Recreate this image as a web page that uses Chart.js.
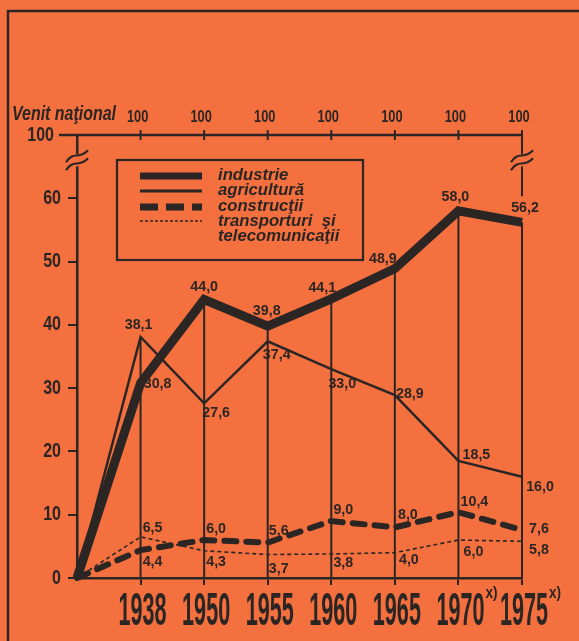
<!DOCTYPE html>
<html>
<head>
<meta charset="utf-8">
<script src="https://cdn.jsdelivr.net/npm/chart.js@4.4.1/dist/chart.umd.min.js"></script>
<style>
  html, body { margin: 0; padding: 0; background: #f4703f; }
  #wrap { width: 579px; height: 641px; }
</style>
</head>
<body>
<div id="wrap"><canvas id="venitChart"></canvas></div>
<script>
// values (index 0 is the common origin)
const categories = ['', '1938', '1950', '1955', '1960', '1965', '1970', '1975'];
const industrie = [0, 30.8, 44.0, 39.8, 44.1, 48.9, 58.0, 56.2];
const agricultura = [0, 38.1, 27.6, 37.4, 33.0, 28.9, 18.5, 16.0];
const constructii = [0, 4.4, 6.0, 5.6, 9.0, 8.0, 10.4, 7.6];
const transporturi = [0, 6.5, 4.3, 3.7, 3.8, 4.0, 6.0, 5.8];
const venitNational = [null, 100, 100, 100, 100, 100, 100, 100];
const yTicks = [0, 10, 20, 30, 40, 50, 60];
const yTopValue = 70;      // the axis is broken: this position stands for 100
const yTopLabel = '100';
const footnoted = ['1970', '1975'];

const INK = '#2b2624';
const BG = '#f4703f';
const FONT = '"Liberation Sans", Arial, sans-serif';

// nudges for the value labels, [dx, dy] from the point, per series
const labelNudge = [
  [null, [17, 1], [0, -13], [-1, -15], [-9, -11], [-12, -10], [-3, -14], [3, -14]],
  [null, [-2, -12], [12, 10], [9, 14], [11, 15], [15, -1], [18, -6], [18, 10]],
  [null, [12, 12], [12, -11], [11, -12], [12, -11], [13, -13], [16, -10], [17, -1]],
  [null, [12, -9], [12, 11], [11, 14], [12, 9], [14, 7], [15, 12], [17, 9]]
];

const fmt = v => v.toFixed(1).replace('.', ',');

// text squeezed horizontally, like the hand lettering
function txt(ctx, s, x, y, font, sx, align) {
  ctx.save();
  ctx.font = font;
  ctx.fillStyle = INK;
  ctx.textAlign = align;
  ctx.textBaseline = 'middle';
  ctx.translate(x, y);
  ctx.scale(sx, 1);
  ctx.fillText(s, 0, 0);
  const w = ctx.measureText(s).width * sx;
  ctx.restore();
  return w;
}

function wave(ctx, x, y) {
  ctx.save();
  ctx.fillStyle = BG;
  ctx.fillRect(x - 3, y - 6, 6, 12);
  ctx.strokeStyle = INK;
  ctx.lineWidth = 2.2;
  [-4, 4].forEach(o => {
    ctx.beginPath();
    ctx.moveTo(x - 11, y + o + 6);
    ctx.bezierCurveTo(x - 4, y + o - 6, x + 2, y + o + 4, x + 11, y + o - 6);
    ctx.stroke();
  });
  ctx.restore();
}

const paperPlugin = {
  id: 'paper',
  beforeDraw(chart) {
    const ctx = chart.ctx;
    ctx.save();
    ctx.fillStyle = BG;
    ctx.fillRect(0, 0, chart.width, chart.height);
    ctx.strokeStyle = INK;
    ctx.lineWidth = 2.5;
    ctx.beginPath();
    ctx.moveTo(8, chart.height);
    ctx.lineTo(8, 11);
    ctx.lineTo(chart.width, 11);
    ctx.stroke();
    ctx.restore();
  },
  beforeDatasetsDraw(chart) {
    const { ctx, chartArea, scales: { x, y } } = chart;
    ctx.save();
    ctx.strokeStyle = INK;
    ctx.lineWidth = 2;
    for (let i = 1; i < categories.length; i++) {
      const top = Math.max(industrie[i], agricultura[i], constructii[i], transporturi[i]);
      const px = x.getPixelForValue(i);
      ctx.beginPath();
      ctx.moveTo(px, y.getPixelForValue(0));
      ctx.lineTo(px, y.getPixelForValue(top));
      ctx.stroke();
    }
    // right border along the last year, above its label
    const last = categories.length - 1;
    const rx = x.getPixelForValue(last);
    ctx.beginPath();
    ctx.moveTo(rx, chartArea.top);
    ctx.lineTo(rx, y.getPixelForValue(industrie[last]) - 26);
    ctx.stroke();
    ctx.restore();
  },
  afterDraw(chart) {
    const { ctx, chartArea, scales: { x, y } } = chart;
    ctx.save();
    ctx.strokeStyle = INK;

    // top axis: national income = 100
    ctx.lineWidth = 2.5;
    ctx.beginPath();
    ctx.moveTo(chartArea.left - 18, chartArea.top);
    ctx.lineTo(chartArea.right, chartArea.top);
    ctx.stroke();
    ctx.lineWidth = 2;
    venitNational.forEach((v, i) => {
      if (v == null) return;
      const px = x.getPixelForValue(i);
      ctx.beginPath();
      ctx.moveTo(px, chartArea.top - 5);
      ctx.lineTo(px, chartArea.top + 5);
      ctx.stroke();
      txt(ctx, String(v), px - 3, chartArea.top - 17, `bold 16px ${FONT}`, 0.8, 'center');
    });
    txt(ctx, 'Venit naţional', 12, chartArea.top - 21, `italic bold 21px ${FONT}`, 0.76, 'left');

    // y labels
    yTicks.forEach(v => txt(ctx, String(v), chartArea.left - 16, y.getPixelForValue(v), `bold 20px ${FONT}`, 0.8, 'right'));
    txt(ctx, yTopLabel, chartArea.left - 23, y.getPixelForValue(yTopValue), `bold 20px ${FONT}`, 0.8, 'right');

    // axis breaks
    wave(ctx, chartArea.left, y.getPixelForValue(66));
    wave(ctx, chartArea.right, y.getPixelForValue(66));

    // x labels, tall and narrow
    categories.forEach((c, i) => {
      if (!c) return;
      const px = x.getPixelForValue(i);
      const w = txt(ctx, c, px + 2, chartArea.bottom + 34, `bold 46px ${FONT}`, 0.47, 'center');
      if (footnoted.includes(c)) {
        txt(ctx, 'x)', px + w / 2 + 3, chartArea.bottom + 16, `bold 16px ${FONT}`, 0.85, 'left');
      }
    });

    // value labels
    chart.data.datasets.forEach((ds, s) => {
      ds.data.forEach((v, i) => {
        const n = labelNudge[s][i];
        if (!n) return;
        txt(ctx, fmt(v), x.getPixelForValue(i) + n[0], y.getPixelForValue(v) + n[1], `bold 15px ${FONT}`, 0.95, 'center');
      });
    });

    // legend box
    const lx = chartArea.left + 40, ly = 160;
    ctx.lineWidth = 2.2;
    ctx.strokeRect(lx, ly, 246, 100);
    const rows = [
      { w: 7, dash: [], y: 16 },
      { w: 3, dash: [], y: 31 },
      { w: 7, dash: [18, 8], y: 47 },
      { w: 1.6, dash: [3, 2], y: 61 }
    ];
    rows.forEach(r => {
      ctx.lineWidth = r.w;
      ctx.setLineDash(r.dash);
      ctx.beginPath();
      ctx.moveTo(lx + 23, ly + r.y);
      ctx.lineTo(lx + 85, ly + r.y);
      ctx.stroke();
    });
    ctx.setLineDash([]);
    const names = ['industrie', 'agricultură', 'construcţii', 'transporturi  şi', 'telecomunicaţii'];
    [15, 30, 46, 61, 76].forEach((dy, k) => txt(ctx, names[k], lx + 101, ly + dy, `italic bold 17px ${FONT}`, 0.98, 'left'));
    ctx.restore();
  }
};

const ctx = document.getElementById('venitChart').getContext('2d');
new Chart(ctx, {
  type: 'line',
  data: {
    labels: categories,
    datasets: [
      { label: 'industrie', data: industrie, borderColor: INK, borderWidth: 9, borderJoinStyle: 'miter' },
      { label: 'agricultură', data: agricultura, borderColor: INK, borderWidth: 2.5 },
      { label: 'construcţii', data: constructii, borderColor: INK, borderWidth: 6, borderDash: [12, 10], borderCapStyle: 'round' },
      { label: 'transporturi şi telecomunicaţii', data: transporturi, borderColor: INK, borderWidth: 1.6, borderDash: [4, 3] }
    ]
  },
  options: {
    responsive: true,
    maintainAspectRatio: false,
    animation: false,
    layout: { padding: { left: 7, right: 57, top: 135, bottom: 0 } },
    elements: { point: { radius: 0 }, line: { tension: 0, fill: false } },
    datasets: { line: { clip: false } },
    plugins: { legend: { display: false }, tooltip: { enabled: false } },
    scales: {
      x: {
        offset: false,
        afterFit: s => { s.height = 63; },
        grid: {
          drawOnChartArea: false,
          tickLength: 7,
          lineWidth: 2,
          color: c => (c.index === 0 ? 'transparent' : INK)
        },
        border: { color: INK, width: 2.5 },
        ticks: { display: false }
      },
      y: {
        min: 0,
        max: yTopValue,
        afterFit: s => { s.width = 70; },
        grid: { drawOnChartArea: false, tickLength: 9, lineWidth: 2, color: INK },
        border: { color: INK, width: 2.5 },
        ticks: { display: false, stepSize: 10 }
      }
    }
  },
  plugins: [paperPlugin]
});
</script>
</body>
</html>
